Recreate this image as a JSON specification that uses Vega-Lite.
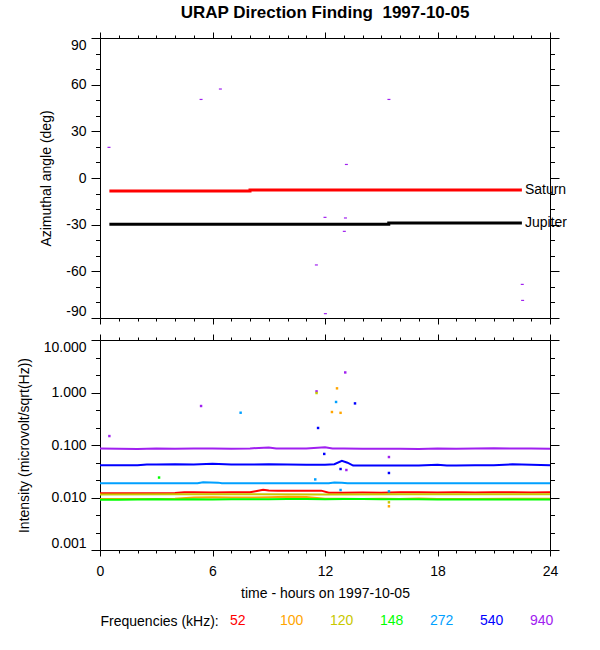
{
  "$schema": "https://vega.github.io/schema/vega-lite/v6.json",
  "padding": {"left": 17, "top": 3, "right": 0, "bottom": 0},
  "background": "white",
  "config": {
    "font": "Liberation Sans",
    "view": {"stroke": null},
    "axis": {
      "grid": false,
      "domainColor": "black",
      "tickColor": "black",
      "labelColor": "black",
      "labelFont": "Liberation Sans",
      "labelFontSize": 14,
      "titleFont": "Liberation Sans",
      "titleFontSize": 14,
      "titleFontWeight": "normal",
      "titleColor": "black"
    }
  },
  "datasets": {
    "planets": [
      {"body": "Saturn", "t": 0.5, "angle": -8.4},
      {"body": "Saturn", "t": 8.0, "angle": -7.7},
      {"body": "Saturn", "t": 22.5, "angle": -7.7},
      {"body": "Jupiter", "t": 0.5, "angle": -29.8},
      {"body": "Jupiter", "t": 15.4, "angle": -28.9},
      {"body": "Jupiter", "t": 22.5, "angle": -28.9}
    ],
    "df": [
      {"t": 0.48, "angle": 19.7},
      {"t": 5.39, "angle": 50.5},
      {"t": 6.42, "angle": 57.2},
      {"t": 15.41, "angle": 50.5},
      {"t": 13.14, "angle": 8.7},
      {"t": 12.0, "angle": -25.3},
      {"t": 13.09, "angle": -25.7},
      {"t": 13.03, "angle": -34.3},
      {"t": 11.54, "angle": -55.9},
      {"t": 12.02, "angle": -87.2},
      {"t": 22.52, "angle": -68.4},
      {"t": 22.54, "angle": -78.7}
    ],
    "lines": [
      {"freq": "52", "t": 0, "v": 0.012},
      {"freq": "52", "t": 1, "v": 0.0121},
      {"freq": "52", "t": 2, "v": 0.012},
      {"freq": "52", "t": 3, "v": 0.0121},
      {"freq": "52", "t": 4, "v": 0.0122},
      {"freq": "52", "t": 4.5, "v": 0.0126},
      {"freq": "52", "t": 5, "v": 0.0126},
      {"freq": "52", "t": 6, "v": 0.0125},
      {"freq": "52", "t": 7, "v": 0.0126},
      {"freq": "52", "t": 8, "v": 0.0126},
      {"freq": "52", "t": 8.3, "v": 0.0132},
      {"freq": "52", "t": 8.7, "v": 0.0141},
      {"freq": "52", "t": 9, "v": 0.0136},
      {"freq": "52", "t": 9.5, "v": 0.0134},
      {"freq": "52", "t": 10, "v": 0.0134},
      {"freq": "52", "t": 11, "v": 0.0134},
      {"freq": "52", "t": 11.8, "v": 0.0135},
      {"freq": "52", "t": 12.2, "v": 0.0123},
      {"freq": "52", "t": 13, "v": 0.0123},
      {"freq": "52", "t": 14, "v": 0.0124},
      {"freq": "52", "t": 15, "v": 0.0123},
      {"freq": "52", "t": 16, "v": 0.0126},
      {"freq": "52", "t": 17, "v": 0.0126},
      {"freq": "52", "t": 18, "v": 0.0125},
      {"freq": "52", "t": 19, "v": 0.0126},
      {"freq": "52", "t": 20, "v": 0.0125},
      {"freq": "52", "t": 21, "v": 0.0126},
      {"freq": "52", "t": 22, "v": 0.0126},
      {"freq": "52", "t": 23, "v": 0.0125},
      {"freq": "52", "t": 24, "v": 0.0126},
      {"freq": "100", "t": 0, "v": 0.0094},
      {"freq": "100", "t": 2, "v": 0.0094},
      {"freq": "100", "t": 3, "v": 0.0094},
      {"freq": "100", "t": 4, "v": 0.0095},
      {"freq": "100", "t": 5, "v": 0.01},
      {"freq": "100", "t": 6, "v": 0.0101},
      {"freq": "100", "t": 7, "v": 0.01},
      {"freq": "100", "t": 8, "v": 0.01},
      {"freq": "100", "t": 9, "v": 0.0101},
      {"freq": "100", "t": 10, "v": 0.0103},
      {"freq": "100", "t": 11, "v": 0.0102},
      {"freq": "100", "t": 12, "v": 0.0095},
      {"freq": "100", "t": 13, "v": 0.0095},
      {"freq": "100", "t": 14, "v": 0.0094},
      {"freq": "100", "t": 15, "v": 0.0095},
      {"freq": "100", "t": 16, "v": 0.0094},
      {"freq": "100", "t": 17, "v": 0.0096},
      {"freq": "100", "t": 18, "v": 0.0094},
      {"freq": "100", "t": 20, "v": 0.0094},
      {"freq": "100", "t": 22, "v": 0.0095},
      {"freq": "100", "t": 24, "v": 0.0095},
      {"freq": "120", "t": 0, "v": 0.0114},
      {"freq": "120", "t": 4, "v": 0.0115},
      {"freq": "120", "t": 8, "v": 0.0115},
      {"freq": "120", "t": 12, "v": 0.0114},
      {"freq": "120", "t": 16, "v": 0.0115},
      {"freq": "120", "t": 20, "v": 0.0115},
      {"freq": "120", "t": 24, "v": 0.0115},
      {"freq": "148", "t": 0, "v": 0.0091},
      {"freq": "148", "t": 1, "v": 0.0091},
      {"freq": "148", "t": 2, "v": 0.0092},
      {"freq": "148", "t": 3, "v": 0.0093},
      {"freq": "148", "t": 4, "v": 0.0092},
      {"freq": "148", "t": 5, "v": 0.0093},
      {"freq": "148", "t": 6, "v": 0.0092},
      {"freq": "148", "t": 7, "v": 0.0093},
      {"freq": "148", "t": 8, "v": 0.0093},
      {"freq": "148", "t": 9, "v": 0.0093},
      {"freq": "148", "t": 10, "v": 0.0094},
      {"freq": "148", "t": 11, "v": 0.0094},
      {"freq": "148", "t": 12, "v": 0.0093},
      {"freq": "148", "t": 13, "v": 0.0094},
      {"freq": "148", "t": 14, "v": 0.0094},
      {"freq": "148", "t": 15, "v": 0.0093},
      {"freq": "148", "t": 16, "v": 0.0093},
      {"freq": "148", "t": 17, "v": 0.0093},
      {"freq": "148", "t": 18, "v": 0.0092},
      {"freq": "148", "t": 19, "v": 0.0092},
      {"freq": "148", "t": 20, "v": 0.0092},
      {"freq": "148", "t": 21, "v": 0.0092},
      {"freq": "148", "t": 22, "v": 0.0092},
      {"freq": "148", "t": 23, "v": 0.0092},
      {"freq": "148", "t": 24, "v": 0.0092},
      {"freq": "272", "t": 0, "v": 0.0186},
      {"freq": "272", "t": 3, "v": 0.0186},
      {"freq": "272", "t": 5.2, "v": 0.0186},
      {"freq": "272", "t": 5.5, "v": 0.0195},
      {"freq": "272", "t": 6.3, "v": 0.0192},
      {"freq": "272", "t": 6.5, "v": 0.0186},
      {"freq": "272", "t": 9, "v": 0.0186},
      {"freq": "272", "t": 12.2, "v": 0.0186},
      {"freq": "272", "t": 12.5, "v": 0.0193},
      {"freq": "272", "t": 12.9, "v": 0.019},
      {"freq": "272", "t": 13.2, "v": 0.0186},
      {"freq": "272", "t": 16, "v": 0.0186},
      {"freq": "272", "t": 20, "v": 0.0186},
      {"freq": "272", "t": 24, "v": 0.0186},
      {"freq": "540", "t": 0, "v": 0.041},
      {"freq": "540", "t": 1, "v": 0.041},
      {"freq": "540", "t": 2, "v": 0.041},
      {"freq": "540", "t": 2.5, "v": 0.0425},
      {"freq": "540", "t": 3, "v": 0.0425},
      {"freq": "540", "t": 4, "v": 0.043},
      {"freq": "540", "t": 5, "v": 0.0425},
      {"freq": "540", "t": 6, "v": 0.044},
      {"freq": "540", "t": 7, "v": 0.0425},
      {"freq": "540", "t": 8, "v": 0.0425},
      {"freq": "540", "t": 9, "v": 0.043},
      {"freq": "540", "t": 10, "v": 0.0425},
      {"freq": "540", "t": 11, "v": 0.042},
      {"freq": "540", "t": 12, "v": 0.042},
      {"freq": "540", "t": 12.5, "v": 0.043},
      {"freq": "540", "t": 12.9, "v": 0.05},
      {"freq": "540", "t": 13.2, "v": 0.046},
      {"freq": "540", "t": 13.5, "v": 0.0405},
      {"freq": "540", "t": 14, "v": 0.0405},
      {"freq": "540", "t": 15, "v": 0.0405},
      {"freq": "540", "t": 16, "v": 0.0405},
      {"freq": "540", "t": 17, "v": 0.0405},
      {"freq": "540", "t": 18, "v": 0.042},
      {"freq": "540", "t": 18.5, "v": 0.0405},
      {"freq": "540", "t": 19, "v": 0.0405},
      {"freq": "540", "t": 20, "v": 0.041},
      {"freq": "540", "t": 21, "v": 0.041},
      {"freq": "540", "t": 22, "v": 0.043},
      {"freq": "540", "t": 23, "v": 0.042},
      {"freq": "540", "t": 24, "v": 0.041},
      {"freq": "940", "t": 0, "v": 0.086},
      {"freq": "940", "t": 1, "v": 0.085},
      {"freq": "940", "t": 2, "v": 0.084},
      {"freq": "940", "t": 3, "v": 0.086},
      {"freq": "940", "t": 4, "v": 0.085},
      {"freq": "940", "t": 5, "v": 0.086},
      {"freq": "940", "t": 6, "v": 0.086},
      {"freq": "940", "t": 7, "v": 0.085},
      {"freq": "940", "t": 8, "v": 0.086},
      {"freq": "940", "t": 9, "v": 0.09},
      {"freq": "940", "t": 9.4, "v": 0.086},
      {"freq": "940", "t": 10, "v": 0.086},
      {"freq": "940", "t": 11, "v": 0.086},
      {"freq": "940", "t": 12, "v": 0.091},
      {"freq": "940", "t": 12.4, "v": 0.086},
      {"freq": "940", "t": 13, "v": 0.086},
      {"freq": "940", "t": 14, "v": 0.085},
      {"freq": "940", "t": 15, "v": 0.085},
      {"freq": "940", "t": 16, "v": 0.085},
      {"freq": "940", "t": 17, "v": 0.084},
      {"freq": "940", "t": 18, "v": 0.086},
      {"freq": "940", "t": 19, "v": 0.085},
      {"freq": "940", "t": 20, "v": 0.086},
      {"freq": "940", "t": 21, "v": 0.087},
      {"freq": "940", "t": 22, "v": 0.086},
      {"freq": "940", "t": 23, "v": 0.086},
      {"freq": "940", "t": 24, "v": 0.085}
    ],
    "dots": [
      {"freq": "940", "t": 0.5, "v": 0.148},
      {"freq": "940", "t": 5.39, "v": 0.553},
      {"freq": "940", "t": 13.08, "v": 2.41},
      {"freq": "940", "t": 11.55, "v": 1.05},
      {"freq": "940", "t": 15.41, "v": 0.059},
      {"freq": "940", "t": 13.14, "v": 0.0334},
      {"freq": "120", "t": 11.55, "v": 0.977},
      {"freq": "120", "t": 15.41, "v": 0.0081},
      {"freq": "100", "t": 12.64, "v": 1.2},
      {"freq": "100", "t": 12.37, "v": 0.425},
      {"freq": "100", "t": 12.83, "v": 0.41},
      {"freq": "100", "t": 15.41, "v": 0.0068},
      {"freq": "272", "t": 7.5, "v": 0.412},
      {"freq": "272", "t": 12.59, "v": 0.66},
      {"freq": "272", "t": 11.48, "v": 0.0221},
      {"freq": "272", "t": 12.83, "v": 0.0139},
      {"freq": "272", "t": 15.41, "v": 0.0131},
      {"freq": "540", "t": 13.6, "v": 0.62},
      {"freq": "540", "t": 11.63, "v": 0.211},
      {"freq": "540", "t": 11.96, "v": 0.0676},
      {"freq": "540", "t": 12.83, "v": 0.0349},
      {"freq": "540", "t": 15.41, "v": 0.0293},
      {"freq": "148", "t": 3.15, "v": 0.024}
    ],
    "freqs": [
      {"freq": "52"}, {"freq": "100"}, {"freq": "120"}, {"freq": "148"},
      {"freq": "272"}, {"freq": "540"}, {"freq": "940"}
    ]
  },
  "spacing": 8,
  "vconcat": [
    {
      "width": 450,
      "height": 280,
      "title": {
        "text": "URAP Direction Finding\u00a0 1997-10-05",
        "frame": "group",
        "anchor": "middle",
        "fontSize": 17,
        "fontWeight": "bold",
        "font": "Liberation Sans",
        "color": "black",
        "offset": 10
      },
      "layer": [
        {
          "data": {"name": "planets"},
          "transform": [{"filter": "datum.body == 'Saturn'"}],
          "mark": {"type": "line", "interpolate": "step-after", "strokeWidth": 3, "color": "#ff0000"},
          "encoding": {
            "x": {"field": "t", "type": "quantitative", "scale": {"domain": [0, 24], "nice": false},
              "axis": {"orient": "bottom", "values": [0, 6, 12, 18, 24], "labels": false, "tickSize": 6, "title": null}},
            "y": {"field": "angle", "type": "quantitative", "scale": {"domain": [-90, 90], "nice": false},
              "axis": {"orient": "left", "values": [-90, -60, -30, 0, 30, 60, 90], "tickSize": 9, "labelPadding": 5,
                "labelFlush": true, "labelExpr": "'' + datum.value", "title": "Azimuthal angle (deg)", "titlePadding": 12}}
          }
        },
        {
          "data": {"name": "planets"},
          "transform": [{"filter": "datum.body == 'Jupiter'"}],
          "mark": {"type": "line", "interpolate": "step-after", "strokeWidth": 3, "color": "#000000"},
          "encoding": {
            "x": {"field": "t", "type": "quantitative",
              "axis": {"orient": "bottom", "values": [1, 2, 3, 4, 5, 7, 8, 9, 10, 11, 13, 14, 15, 16, 17, 19, 20, 21, 22, 23],
                "labels": false, "domain": false, "tickSize": 3, "title": null}},
            "y": {"field": "angle", "type": "quantitative",
              "axis": {"orient": "left", "values": [-80, -70, -50, -40, -20, -10, 10, 20, 40, 50, 70, 80],
                "labels": false, "domain": false, "tickSize": 4.5, "title": null}}
          }
        },
        {
          "data": {"name": "df"},
          "mark": {"type": "point", "shape": "M-1,-0.4H1V0.4H-1Z", "filled": true, "size": 9, "color": "#a020f0", "opacity": 1},
          "encoding": {
            "x": {"field": "t", "type": "quantitative",
              "axis": {"orient": "top", "values": [0, 6, 12, 18, 24], "labels": false, "tickSize": 6, "title": null}},
            "y": {"field": "angle", "type": "quantitative",
              "axis": {"orient": "right", "values": [-90, -60, -30, 0, 30, 60, 90], "labels": false, "tickSize": 9, "title": null}}
          }
        },
        {
          "data": {"name": "planets"},
          "transform": [{"filter": "datum.t == 22.5"}],
          "mark": {"type": "text", "align": "left", "baseline": "middle", "dx": 3, "fontSize": 14, "color": "black"},
          "encoding": {
            "text": {"field": "body"},
            "x": {"field": "t", "type": "quantitative",
              "axis": {"orient": "top", "values": [1, 2, 3, 4, 5, 7, 8, 9, 10, 11, 13, 14, 15, 16, 17, 19, 20, 21, 22, 23],
                "labels": false, "domain": false, "tickSize": 3, "title": null}},
            "y": {"field": "angle", "type": "quantitative",
              "axis": {"orient": "right", "values": [-80, -70, -50, -40, -20, -10, 10, 20, 40, 50, 70, 80],
                "labels": false, "domain": false, "tickSize": 4.5, "title": null}}
          }
        }
      ],
      "resolve": {"axis": {"x": "independent", "y": "independent"}}
    },
    {
      "width": 450,
      "height": 210,
      "layer": [
        {
          "data": {"name": "lines"},
          "transform": [{"filter": "indexof(['52', '100', '120', '148'], datum.freq) >= 0"}],
          "mark": {"type": "line", "strokeWidth": 2},
          "encoding": {
            "x": {"field": "t", "type": "quantitative", "scale": {"domain": [0, 24], "nice": false},
              "axis": {"orient": "bottom", "values": [0, 6, 12, 18, 24], "tickSize": 6, "labelPadding": 8, "labelFlush": false,
                "title": "time - hours on 1997-10-05", "titlePadding": 8}},
            "y": {"field": "v", "type": "quantitative", "scale": {"type": "log", "domain": [0.001, 10], "nice": false},
              "axis": {"orient": "left", "values": [0.001, 0.01, 0.1, 1, 10], "format": ".3f", "tickSize": 9, "labelPadding": 5,
                "labelFlush": true, "title": "Intensity (microvolt/sqrt(Hz))", "titlePadding": 12}},
            "color": {"field": "freq", "type": "nominal",
              "scale": {"domain": ["52", "100", "120", "148", "272", "540", "940"],
                "range": ["#ff0000", "#ffa500", "#c8c800", "#00ff00", "#00a0ff", "#0000ff", "#a020f0"]},
              "legend": null}
          }
        },
        {
          "data": {"name": "lines"},
          "transform": [{"filter": "indexof(['272', '540', '940'], datum.freq) >= 0"}],
          "mark": {"type": "line", "strokeWidth": 2},
          "encoding": {
            "x": {"field": "t", "type": "quantitative",
              "axis": {"orient": "bottom", "values": [1, 2, 3, 4, 5, 7, 8, 9, 10, 11, 13, 14, 15, 16, 17, 19, 20, 21, 22, 23],
                "labels": false, "domain": false, "tickSize": 3, "title": null}},
            "y": {"field": "v", "type": "quantitative",
              "axis": {"orient": "left", "values": [0.00215, 0.00464, 0.0215, 0.0464, 0.215, 0.464, 2.15, 4.64],
                "labels": false, "domain": false, "tickSize": 4.5, "title": null}},
            "color": {"field": "freq", "type": "nominal", "legend": null}
          }
        },
        {
          "data": {"name": "dots"},
          "transform": [{"filter": "datum.t < 12.5"}],
          "mark": {"type": "square", "size": 6, "opacity": 1},
          "encoding": {
            "x": {"field": "t", "type": "quantitative",
              "axis": {"orient": "top", "values": [0, 6, 12, 18, 24], "labels": false, "tickSize": 6, "title": null}},
            "y": {"field": "v", "type": "quantitative",
              "axis": {"orient": "right", "values": [0.001, 0.01, 0.1, 1, 10], "labels": false, "tickSize": 9, "title": null}},
            "color": {"field": "freq", "type": "nominal", "legend": null}
          }
        },
        {
          "data": {"name": "dots"},
          "transform": [{"filter": "datum.t >= 12.5"}],
          "mark": {"type": "square", "size": 6, "opacity": 1},
          "encoding": {
            "x": {"field": "t", "type": "quantitative",
              "axis": {"orient": "top", "values": [1, 2, 3, 4, 5, 7, 8, 9, 10, 11, 13, 14, 15, 16, 17, 19, 20, 21, 22, 23],
                "labels": false, "domain": false, "tickSize": 3, "title": null}},
            "y": {"field": "v", "type": "quantitative",
              "axis": {"orient": "right", "values": [0.00215, 0.00464, 0.0215, 0.0464, 0.215, 0.464, 2.15, 4.64],
                "labels": false, "domain": false, "tickSize": 4.5, "title": null}},
            "color": {"field": "freq", "type": "nominal", "legend": null}
          }
        }
      ],
      "resolve": {"axis": {"x": "independent", "y": "independent"}}
    },
    {
      "width": 450,
      "height": 26,
      "data": {"name": "freqs"},
      "mark": {"type": "text", "align": "left", "baseline": "middle", "fontSize": 14},
      "encoding": {
        "text": {"field": "freq"},
        "x": {"field": "freq", "type": "ordinal",
          "scale": {"type": "point", "domain": ["52", "100", "120", "148", "272", "540", "940"], "range": [130, 430], "padding": 0},
          "axis": {"orient": "top", "domain": false, "ticks": false, "labels": false,
            "title": "Frequencies (kHz):", "titleX": 0, "titleY": 13, "titleAlign": "left", "titleAnchor": "start",
            "titleBaseline": "middle", "titleAngle": 0}},
        "color": {"field": "freq", "type": "nominal", "legend": null}
      }
    }
  ]
}
